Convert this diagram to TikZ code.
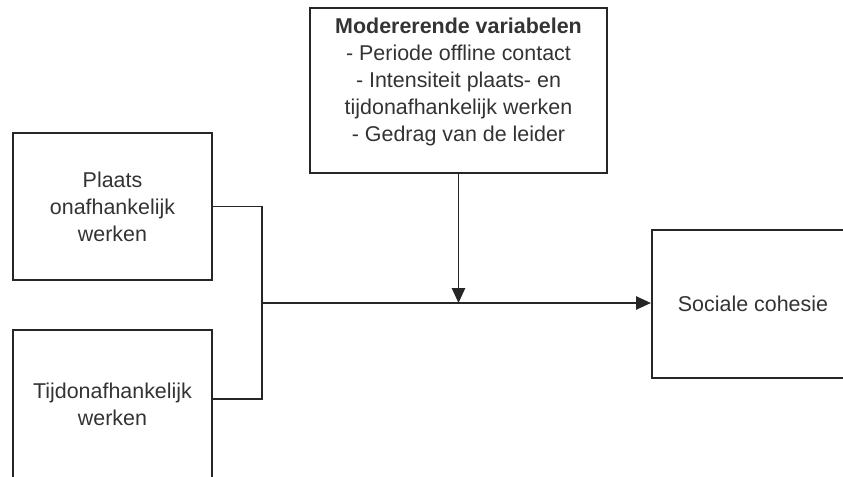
\documentclass[tikz,border=0pt]{standalone}
\usepackage{fontspec}
\setmainfont{Liberation Sans}
\usetikzlibrary{positioning,arrows.meta}

\begin{document}
\begin{tikzpicture}[x=0.02cm,y=-0.02cm,
                    font=\fontsize{12.2}{15.3}\selectfont,
                    box/.style={draw=black!85,line width=1.2pt,text=black!80,
                                align=center,inner sep=0pt},
                    link/.style={draw=black!85,line width=1.1pt},
                    arr/.style={link,-{Triangle[length=8.5pt,width=7.5pt]}}]
  \useasboundingbox (0,0) rectangle (843,477);
  \clip (0,0) rectangle (843,477);

  % boxes
  \node[box,minimum width=5.94cm,minimum height=3.3cm] (mod) at (458.5,90.5) {};
  \node[below=6.3pt of mod.north,align=center,text=black!80,inner sep=0pt] (modtxt)
        {\textbf{Modererende variabelen}\\- Periode offline contact\\
         - Intensiteit plaats- en\\tijdonafhankelijk werken\\- Gedrag van de leider};
  \node[box,minimum width=3.98cm,minimum height=2.94cm] (plaats) at (112.5,206.5)
        {Plaats\\onafhankelijk\\werken};
  \node[box,minimum width=3.98cm,minimum height=2.96cm] (tijd) at (112.5,404)
        {Tijdonafhankelijk\\werken};
  \node[box,minimum width=4.04cm,minimum height=2.96cm] (sc) at (753,304)
        {Sociale cohesie};

  % junctions
  \coordinate (jn) at (262,303);
  \coordinate (jb) at (262,399);

  % connectors
  \draw[link] (plaats.east) -| (jb) -- (tijd.east |- jb);
  \draw[arr] (jn) -- (jn -| sc.west);
  \draw[arr] (mod.south) -- (mod.south |- jn);

\end{tikzpicture}
\end{document}
